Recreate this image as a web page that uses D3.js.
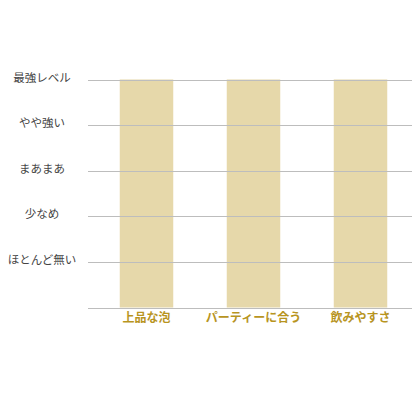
<!DOCTYPE html>
<html>
<head>
<meta charset="utf-8">
<script src="https://cdn.jsdelivr.net/npm/d3@7"></script>
<style>
  body { margin: 0; background: #fff; }
  svg { display: block; }
</style>
</head>
<body>
<div id="chart"></div>
<script>
// categories on the x axis
var categories = ["上品な泡", "パーティーに合う", "飲みやすさ"];
// level of each category (0 = none, 5 = strongest)
var levels = [5, 5, 5];
// tick labels for levels 1..5
var levelValues = [1, 2, 3, 4, 5];
var levelLabels = ["ほとんど無い", "少なめ", "まあまあ", "やや強い", "最強レベル"];

var width = 420, height = 420;
var fontFam = "'Noto Sans CJK JP', 'Noto Sans', sans-serif";

var svg = d3.select("#chart").append("svg")
    .attr("width", width)
    .attr("height", height);

var x = d3.scaleBand()
    .domain(categories)
    .range([93, 414])
    .paddingInner(0.5)
    .paddingOuter(0.25);

var y = d3.scaleLinear()
    .domain([0, 5])
    .range([307.5, 79.5]);

// bars
svg.selectAll("rect.bar")
    .data(levels)
  .enter()
  .append("rect")
    .attr("class", "bar")
    .attr("x", function(d, i) { return x(categories[i]); })
    .attr("width", x.bandwidth())
    .attr("y", function(d) { return y(d); })
    .attr("height", function(d) { return y(0) - y(d); })
    .attr("fill", "#e6d8aa");

// gridlines, including the baseline at 0
svg.selectAll("line.grid")
    .data([0].concat(levelValues))
  .enter()
  .append("line")
    .attr("class", "grid")
    .attr("x1", 88)
    .attr("x2", 412)
    .attr("y1", function(d) { return Math.round(y(d)) + 0.5; })
    .attr("y2", function(d) { return Math.round(y(d)) + 0.5; })
    .attr("stroke", "#bdbdbd")
    .attr("stroke-width", 1);

// level labels on the left
svg.selectAll("text.level")
    .data(levelValues)
  .enter()
  .append("text")
    .attr("class", "level")
    .attr("x", 42)
    .attr("y", function(d) { return y(d) + 2; })
    .attr("text-anchor", "middle")
    .attr("font-family", fontFam)
    .attr("font-size", "11.5px")
    .attr("fill", "#444")
    .text(function(d, i) { return levelLabels[i]; });

// category labels under the bars
svg.selectAll("text.cat")
    .data(categories)
  .enter()
  .append("text")
    .attr("class", "cat")
    .attr("x", function(d) { return x(d) + x.bandwidth() / 2; })
    .attr("y", 322)
    .attr("text-anchor", "middle")
    .attr("font-family", fontFam)
    .attr("font-size", "12px")
    .attr("font-weight", "bold")
    .attr("fill", "#b8951f")
    .text(function(d) { return d; });
</script>
</body>
</html>
